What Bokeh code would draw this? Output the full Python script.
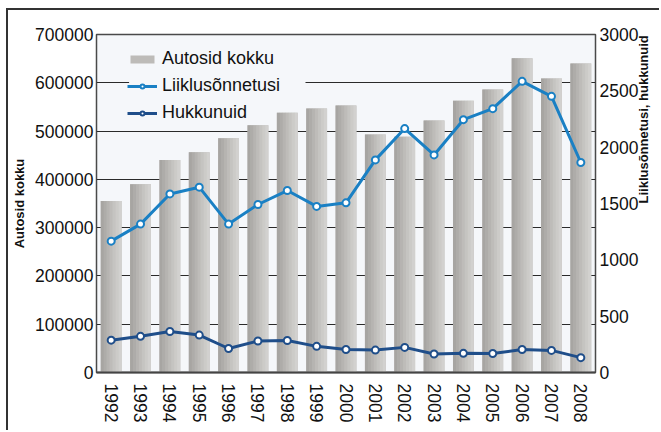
from bokeh.plotting import figure
from bokeh.models import (FactorRange, Range1d, LinearAxis, FixedTicker, BasicTickFormatter,
                          ColumnDataSource, Legend, LegendItem, BoxAnnotation)
from bokeh.transform import dodge
from bokeh.embed import file_html
from bokeh.resources import INLINE
from math import pi

# ---- data ----
years = ["1992", "1993", "1994", "1995", "1996", "1997", "1998", "1999", "2000",
         "2001", "2002", "2003", "2004", "2005", "2006", "2007", "2008"]
autosid_kokku = [355000, 390000, 440000, 456000, 485000, 512000, 538000, 547000, 553000,
                 493000, 488000, 522000, 563000, 586000, 651000, 609000, 640000]
liiklusonnetusi = [1166, 1317, 1585, 1645, 1317, 1491, 1615, 1474, 1506,
                   1887, 2165, 1931, 2244, 2342, 2584, 2451, 1864]
hukkunuid = [287, 321, 364, 332, 213, 280, 284, 232, 204,
             199, 223, 164, 170, 169, 204, 196, 132]
left_ticks = [0, 100000, 200000, 300000, 400000, 500000, 600000, 700000]
right_ticks = [0, 500, 1000, 1500, 2000, 2500, 3000]
series_names = ["Autosid kokku", "Liiklusõnnetusi", "Hukkunuid"]
left_title = "Autosid kokku"
right_title = "Liiklusõnnetusi, hukkunuid"

FONT = "Liberation Sans"
BG = "#F5F7FA"
C_ACC = "#1A80C4"
C_DEAD = "#1F4E8A"

src = ColumnDataSource(dict(year=years, cars=autosid_kokku,
                            acc=liiklusonnetusi, dead=hukkunuid))

p = figure(x_range=FactorRange(*years), y_range=Range1d(0, 700000),
           width=653, height=422, output_backend="svg", toolbar_location=None,
           min_border_left=88, min_border_right=61, min_border_top=24, min_border_bottom=60)
p.stylesheets = [":host { margin: 8px 0 0 6px; border-top: 2px solid #333; border-left: 2px solid #333; }"]
p.extra_y_ranges = {"acc": Range1d(0, 3000)}

p.background_fill_color = BG
p.border_fill_color = "white"
p.outline_line_color = "#4a4a4a"
p.outline_line_width = 1.5

# grid
p.xgrid.grid_line_color = None
p.ygrid.ticker = FixedTicker(ticks=left_ticks)
p.ygrid.grid_line_color = "#2a2a2a"
p.ygrid.grid_line_width = 1


def style_ticks(ax):
    ax.major_tick_line_color = None
    ax.minor_tick_line_color = None
    ax.major_tick_out = 0
    ax.major_tick_in = 0
    ax.minor_tick_out = 0
    ax.minor_tick_in = 0
    ax.major_label_text_font = FONT
    ax.major_label_text_font_size = "17.5px"
    ax.major_label_text_color = "#111"


def style_title(ax, text, standoff):
    ax.axis_label = text
    ax.axis_label_standoff = standoff
    ax.axis_label_text_font = FONT
    ax.axis_label_text_font_size = "13px"
    ax.axis_label_text_font_style = "bold"
    ax.axis_label_text_color = "#111"


# left axis
ya = p.yaxis[0]
ya.ticker = FixedTicker(ticks=left_ticks)
ya.formatter = BasicTickFormatter(use_scientific=False)
ya.axis_line_color = None
style_ticks(ya)
ya.major_label_standoff = 3
style_title(ya, left_title, 5)

# right axis
ra = LinearAxis(y_range_name="acc", ticker=FixedTicker(ticks=right_ticks))
ra.axis_line_color = None
style_ticks(ra)
ra.major_label_standoff = 4
style_title(ra, right_title, 2)
ra.axis_label_text_line_height = 0.7
if "axis_label_orientation" in ra.properties():
    ra.axis_label_orientation = pi / 2
p.add_layout(ra, "right")

# bottom axis
xa = p.xaxis[0]
xa.axis_line_color = "#444"
xa.axis_line_width = 2
style_ticks(xa)
xa.major_label_orientation = "vertical"
xa.major_label_standoff = 11

# background patch behind the legend (hides the grid line there)
p.add_layout(BoxAnnotation(left=1.11, right=7.12, bottom=585000, top=615000,
                           fill_color=BG, fill_alpha=1, line_color=None))

# bars with a horizontal gradient made of strips
base = p.vbar(x="year", top="cars", width=0.71, source=src,
              fill_color="#BDBBB8", line_color=None)
offsets = [-0.3, -0.2, -0.1, 0.0, 0.1, 0.2, 0.3]
cols = ["#A7A5A2", "#AEACA9", "#B6B4B1", "#BEBCB9", "#C5C4C1", "#CCCBC8", "#D2D1CF"]
for off, c in zip(offsets, cols):
    p.vbar(x=dodge("year", off, range=p.x_range), top="cars", width=0.11, source=src,
           fill_color=c, line_color=None)

# lines
l1 = p.line(x="year", y="acc", source=src, y_range_name="acc", line_color=C_ACC, line_width=3)
m1 = p.scatter(x="year", y="acc", source=src, y_range_name="acc", size=7,
               fill_color="white", line_color=C_ACC, line_width=2)
l2 = p.line(x="year", y="dead", source=src, y_range_name="acc", line_color=C_DEAD, line_width=3)
m2 = p.scatter(x="year", y="dead", source=src, y_range_name="acc", size=7,
               fill_color="white", line_color=C_DEAD, line_width=2)

legend = Legend(items=[LegendItem(label=series_names[0], renderers=[base]),
                       LegendItem(label=series_names[1], renderers=[l1, m1]),
                       LegendItem(label=series_names[2], renderers=[l2, m2])],
                location=(31, 249), orientation="vertical",
                background_fill_alpha=0, border_line_color=None,
                padding=6, margin=0, spacing=6,
                glyph_width=30, glyph_height=10, label_height=20, label_standoff=5,
                label_text_font=FONT, label_text_font_size="18px", label_text_color="#111")
p.add_layout(legend)

open("out.html", "w").write(file_html(p, INLINE))
